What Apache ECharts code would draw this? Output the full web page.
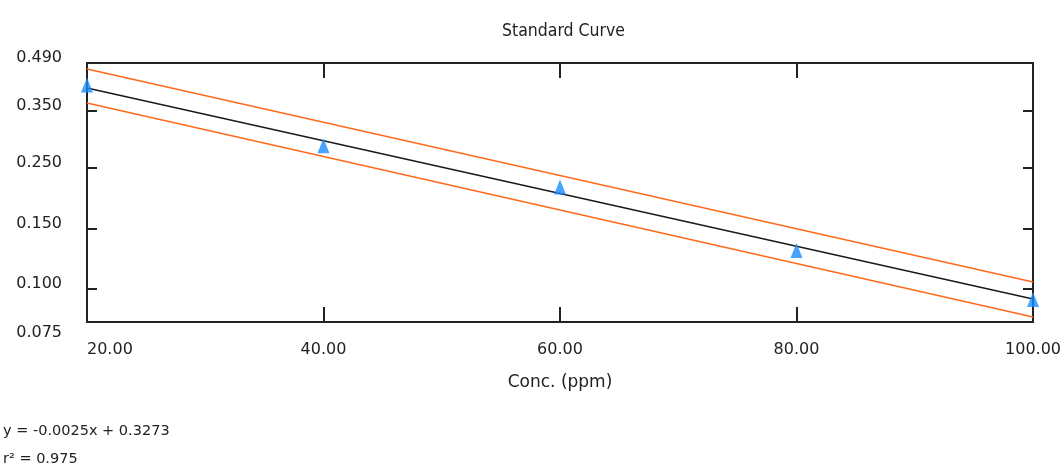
<!DOCTYPE html>
<html>
<head>
<meta charset="utf-8">
<script src="https://cdn.jsdelivr.net/npm/echarts@6/dist/echarts.min.js"></script>
<style>
  html, body { margin: 0; padding: 0; background: #fff; }
  #chart { width: 1064px; height: 468px; }
</style>
</head>
<body>
<div id="chart"></div>
<script>
	// standards (x = concentration, y = reading)
	var concX = [20, 40, 60, 80, 100];
	var absY = [0.426, 0.289, 0.219, 0.132, 0.092];

	// fit line and its two bounds, read at x = 20 and x = 100
	var fitX = [20, 100];
	var fitY = [0.417, 0.0924];
	var upperY = [0.4725, 0.1058];
	var lowerY = [0.3733, 0.0788];

	var xTicks = [20, 40, 60, 80, 100];
	var yTickLabels = [0.075, 0.100, 0.150, 0.250, 0.350, 0.490];
	// the y axis of the original is not evenly spaced: axis units for each label
	var yScaleStops = [0, 33, 93, 154, 211, 259];

	function toAxis(v) {
		for (var i = 0; i < yTickLabels.length - 1; i++) {
			var a = yTickLabels[i], b = yTickLabels[i + 1];
			if (v <= b || i == yTickLabels.length - 2) {
				return yScaleStops[i] + (v - a) / (b - a) * (yScaleStops[i + 1] - yScaleStops[i]);
			}
		}
	}

	function pairs(xs, ys) {
		return xs.map(function (x, i) { return [x, toAxis(ys[i])]; });
	}

	var font = 'DejaVu Sans';
	var ink = '#222';
	var frame = { show: true, onZero: false, lineStyle: { color: ink, width: 2 } };

	var chart = echarts.init(document.getElementById('chart'));

	var option = {
		animation: false,
		backgroundColor: '#fff',
		title: {
			text: 'Standard Curve',
			left: 497,
			top: 17,
			textStyle: { fontFamily: "'Liberation Sans Narrow', 'DejaVu Sans Condensed', 'Liberation Sans'", fontSize: 17.5, fontWeight: 'normal', color: ink }
		},
		grid: { left: 87, right: 28, top: 63, height: 259 },
		xAxis: [
			{
				type: 'value',
				position: 'bottom',
				min: xTicks[0],
				max: xTicks[xTicks.length - 1],
				interval: 20,
				axisLine: frame,
				axisTick: { inside: true, length: 15, lineStyle: { color: ink, width: 2 } },
				axisLabel: {
					formatter: function (v) { return v.toFixed(2); },
					fontFamily: font, fontSize: 16, color: ink, margin: 20,
					alignMinLabel: 'left'
				},
				splitLine: { show: false },
				name: 'Conc. (ppm)',
				nameLocation: 'middle',
				nameGap: 52,
				nameTextStyle: { fontFamily: font, fontSize: 17, color: ink }
			},
			{
				type: 'value',
				position: 'top',
				min: xTicks[0],
				max: xTicks[xTicks.length - 1],
				interval: 20,
				axisLine: frame,
				axisTick: { inside: true, length: 15, lineStyle: { color: ink, width: 2 } },
				axisLabel: { show: false },
				splitLine: { show: false }
			}
		],
		yAxis: [
			{
				type: 'value',
				position: 'left',
				min: yScaleStops[0],
				max: yScaleStops[yScaleStops.length - 1],
				axisLine: frame,
				axisTick: { inside: true, length: 10, customValues: yScaleStops.slice(1, -1), lineStyle: { color: ink, width: 2 } },
				axisLabel: {
					customValues: yScaleStops,
					formatter: function (v) {
						var i = yScaleStops.indexOf(v);
						var s = yTickLabels[i].toFixed(3);
						return i == 0 ? '{low|' + s + '}' : '{n|' + s + '}';
					},
					margin: 25,
					rich: {
						n: { fontFamily: font, fontSize: 16, color: ink, padding: [0, 0, 10, 0] },
						low: { fontFamily: font, fontSize: 16, color: ink, padding: [22, 0, 0, 0] }
					}
				},
				splitLine: { show: false }
			},
			{
				type: 'value',
				position: 'right',
				min: yScaleStops[0],
				max: yScaleStops[yScaleStops.length - 1],
				axisLine: frame,
				axisTick: { inside: true, length: 10, customValues: yScaleStops.slice(1, -1), lineStyle: { color: ink, width: 2 } },
				axisLabel: { show: false },
				splitLine: { show: false }
			}
		],
		graphic: [
			{ type: 'text', left: 3, top: 424, style: { text: 'y = -0.0025x + 0.3273', fontFamily: font, fontSize: 14.5, fill: ink } },
			{ type: 'text', left: 3, top: 452, style: { text: 'r\u00b2 = 0.975', fontFamily: font, fontSize: 14.5, fill: ink } }
		],
		series: [
			{
				type: 'line',
				data: pairs(fitX, upperY),
				symbol: 'none',
				lineStyle: { color: '#ff6a1a', width: 1.5 },
				silent: true
			},
			{
				type: 'line',
				data: pairs(fitX, lowerY),
				symbol: 'none',
				lineStyle: { color: '#ff6a1a', width: 1.5 },
				silent: true
			},
			{
				type: 'line',
				data: pairs(fitX, fitY),
				symbol: 'none',
				lineStyle: { color: '#1a1a1a', width: 1.5 },
				silent: true
			},
			{
				type: 'scatter',
				data: pairs(concX, absY),
				symbol: 'triangle',
				symbolSize: [12, 15],
				itemStyle: { color: '#1a8cff' },
				clip: true,
				z: 5
			}
		]
	};

	chart.setOption(option);
</script>
</body>
</html>
